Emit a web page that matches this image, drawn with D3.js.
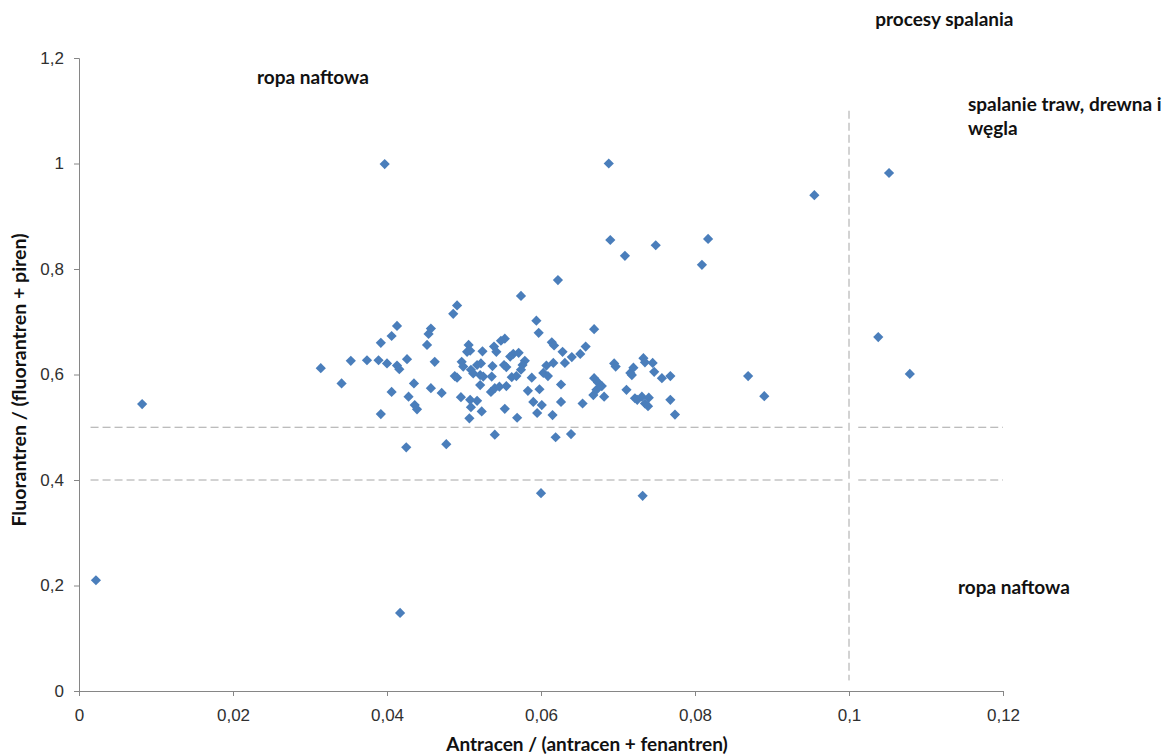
<!DOCTYPE html>
<html>
<head>
<meta charset="utf-8">
<script src="https://cdn.jsdelivr.net/npm/d3@7"></script>
<style>
  html, body { margin: 0; padding: 0; background: #ffffff; }
  svg { display: block; font-family: Lato, "Open Sans", "Liberation Sans", sans-serif; }
</style>
</head>
<body>
<svg id="chart" width="1166" height="756"></svg>
<script>
// Antracen / (antracen + fenantren)
const antracenRatio = [
  0.0022, 0.0082, 0.0417, 0.0397, 0.0688, 0.0955, 0.1052, 0.1038, 0.1079, 0.0869,
  0.0890, 0.0817, 0.0809, 0.0749, 0.0690, 0.0709, 0.0622, 0.0574, 0.0732, 0.0600,
  0.0314, 0.0341, 0.0353, 0.0374, 0.0389, 0.0400, 0.0413, 0.0416, 0.0392, 0.0406,
  0.0413, 0.0406, 0.0392, 0.0491, 0.0486, 0.0457, 0.0454, 0.0452, 0.0426, 0.0462,
  0.0435, 0.0457, 0.0471, 0.0428, 0.0436, 0.0439, 0.0425, 0.0477, 0.0488, 0.0491,
  0.0496, 0.0508, 0.0517, 0.0509, 0.0523, 0.0507, 0.0540, 0.0497, 0.0499, 0.0506,
  0.0508, 0.0504, 0.0524, 0.0509, 0.0517, 0.0522, 0.0512, 0.0521, 0.0525, 0.0521,
  0.0536, 0.0539, 0.0542, 0.0537, 0.0535, 0.0540, 0.0546, 0.0594, 0.0597, 0.0669,
  0.0548, 0.0553, 0.0614, 0.0617, 0.0628, 0.0631, 0.0640, 0.0651, 0.0658, 0.0564,
  0.0571, 0.0560, 0.0579, 0.0576, 0.0552, 0.0555, 0.0574, 0.0607, 0.0616, 0.0603,
  0.0609, 0.0562, 0.0568, 0.0588, 0.0555, 0.0583, 0.0598, 0.0626, 0.0669, 0.0674,
  0.0679, 0.0668, 0.0672, 0.0682, 0.0553, 0.0569, 0.0590, 0.0595, 0.0601, 0.0626,
  0.0615, 0.0654, 0.0619, 0.0639, 0.0695, 0.0697, 0.0711, 0.0716, 0.0720, 0.0718,
  0.0733, 0.0735, 0.0745, 0.0747, 0.0757, 0.0768, 0.0722, 0.0725, 0.0731, 0.0740,
  0.0735, 0.0739, 0.0768, 0.0774
];

// Fluorantren / (fluorantren + piren)
const fluorantrenRatio = [
  0.210, 0.544, 0.148, 0.999, 1.000, 0.940, 0.982, 0.671, 0.601, 0.597,
  0.559, 0.857, 0.808, 0.845, 0.855, 0.825, 0.779, 0.749, 0.370, 0.375,
  0.612, 0.583, 0.626, 0.627, 0.627, 0.621, 0.617, 0.610, 0.660, 0.673,
  0.692, 0.567, 0.525, 0.731, 0.715, 0.687, 0.677, 0.656, 0.629, 0.624,
  0.583, 0.574, 0.565, 0.558, 0.542, 0.534, 0.462, 0.468, 0.597, 0.594,
  0.557, 0.552, 0.550, 0.538, 0.530, 0.517, 0.486, 0.624, 0.615, 0.656,
  0.645, 0.643, 0.644, 0.609, 0.618, 0.621, 0.602, 0.599, 0.596, 0.580,
  0.596, 0.653, 0.643, 0.616, 0.567, 0.574, 0.577, 0.702, 0.679, 0.686,
  0.664, 0.668, 0.661, 0.655, 0.643, 0.622, 0.633, 0.639, 0.653, 0.639,
  0.641, 0.634, 0.626, 0.618, 0.618, 0.614, 0.609, 0.617, 0.622, 0.603,
  0.597, 0.595, 0.597, 0.594, 0.578, 0.569, 0.572, 0.581, 0.593, 0.585,
  0.578, 0.561, 0.571, 0.558, 0.535, 0.518, 0.548, 0.527, 0.542, 0.548,
  0.523, 0.545, 0.481, 0.487, 0.621, 0.615, 0.571, 0.603, 0.613, 0.599,
  0.631, 0.623, 0.622, 0.605, 0.593, 0.597, 0.555, 0.552, 0.558, 0.556,
  0.545, 0.540, 0.552, 0.524
];

const xTicks = [0, 0.02, 0.04, 0.06, 0.08, 0.1, 0.12];
const yTicks = [0, 0.2, 0.4, 0.6, 0.8, 1, 1.2];

// Boundary lines of the source diagnostic zones (data units)
const zoneLinesH = [
  { y: 0.5, x0: 0.0015, x1: 0.0992 },
  { y: 0.5, x0: 0.1012, x1: 0.12 },
  { y: 0.4, x0: 0.0015, x1: 0.0992 },
  { y: 0.4, x0: 0.1012, x1: 0.12 }
];
const zoneLinesV = [{ x: 0.1, y0: 0.02, y1: 1.1 }];

// Zone captions, anchored at their left baseline (data units)
const zoneLabels = [
  { lines: ["ropa naftowa"], x: 0.02312, y: 1.1507 },
  { lines: ["procesy spalania"], x: 0.1034, y: 1.2607 },
  { lines: ["spalanie traw, drewna i", "węgla"], x: 0.11545, y: 1.0995 },
  { lines: ["ropa naftowa"], x: 0.11416, y: 0.184 }
];

const svg = d3.select("#chart");
const margin = { left: 79, right: 163, top: 58, bottom: 65 };
const W = 1166, H = 756;

const x = d3.scaleLinear().domain([0, 0.12]).range([margin.left, W - margin.right]);
const y = d3.scaleLinear().domain([0, 1.2]).range([H - margin.bottom, margin.top]);

const fmt = d => String(+d.toFixed(2)).replace(".", ",");
const axisColor = "#868686";
const textColor = "#303030";

// Y axis
const gy = svg.append("g")
  .attr("transform", `translate(${x(0)},0)`)
  .call(d3.axisLeft(y).tickValues(yTicks).tickFormat(fmt).tickSize(5).tickPadding(10));
gy.select(".domain").attr("stroke", axisColor);
gy.selectAll(".tick line").attr("stroke", axisColor);
gy.selectAll(".tick text").attr("fill", textColor).attr("font-size", 17);

// X axis
const gx = svg.append("g")
  .attr("transform", `translate(0,${y(0)})`)
  .call(d3.axisBottom(x).tickValues(xTicks).tickFormat(fmt).tickSize(5).tickPadding(13));
gx.select(".domain").attr("stroke", axisColor);
gx.selectAll(".tick line").attr("stroke", axisColor);
gx.selectAll(".tick text").attr("fill", textColor).attr("font-size", 17);

// Dashed zone boundaries
svg.append("g").selectAll("line.h").data(zoneLinesH).join("line")
  .attr("x1", d => x(d.x0)).attr("x2", d => x(d.x1))
  .attr("y1", d => y(d.y)).attr("y2", d => y(d.y))
  .attr("stroke", "#a6a6a6").attr("stroke-width", 1).attr("stroke-dasharray", "8,4");
svg.append("g").selectAll("line.v").data(zoneLinesV).join("line")
  .attr("x1", d => x(d.x)).attr("x2", d => x(d.x))
  .attr("y1", d => y(d.y1)).attr("y2", d => y(d.y0))
  .attr("stroke", "#a6a6a6").attr("stroke-width", 1).attr("stroke-dasharray", "8,4");

// Points: rotated squares (diamond markers)
const diamond = d3.symbol().type(d3.symbolSquare).size(52);
const pts = antracenRatio.map((v, i) => [v, fluorantrenRatio[i]]);
svg.append("g").selectAll("path").data(pts).join("path")
  .attr("d", diamond)
  .attr("transform", d => `translate(${x(d[0])},${y(d[1])}) rotate(45)`)
  .attr("fill", "#4A7EBB");

// Zone labels
const lab = svg.append("g").attr("font-weight", "bold").attr("font-size", 19).attr("fill", "#111111");
zoneLabels.forEach(z => {
  const t = lab.append("text")
    .attr("x", x(z.x)).attr("y", y(z.y))
    .attr("text-anchor", "start");
  z.lines.forEach((s, i) => {
    t.append("tspan").attr("x", x(z.x)).attr("dy", i === 0 ? 0 : 24).text(s);
  });
});

// Axis titles
svg.append("text")
  .attr("x", 587).attr("y", 751)
  .attr("text-anchor", "middle").attr("font-weight", "bold").attr("font-size", 19)
  .attr("fill", "#111111")
  .text("Antracen / (antracen + fenantren)");
svg.append("text")
  .attr("transform", "translate(26,380) rotate(-90)")
  .attr("text-anchor", "middle").attr("font-weight", "bold").attr("font-size", 19.5)
  .attr("fill", "#111111")
  .text("Fluorantren / (fluorantren + piren)");
</script>
</body>
</html>
